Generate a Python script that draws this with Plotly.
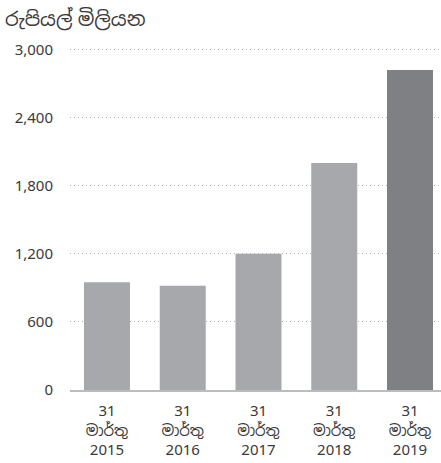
import plotly.graph_objects as go

years = ["2015", "2016", "2017", "2018", "2019"]
day = "31"
month = "මාර්තු"
values = [950, 920, 1200, 2000, 2820]
bar_colors = ["#a7a8ab", "#a7a8ab", "#a7a8ab", "#a7a8ab", "#7f8084"]
y_ticks = [0, 600, 1200, 1800, 2400, 3000]
y_tick_labels = ["0", "600", "1,200", "1,800", "2,400", "3,000"]
title_text = "රුපියල් මිලියන"

categories = [f"{day}<br>{month}<br>{y}" for y in years]

font_family = "Noto Sans, Noto Sans Sinhala, DejaVu Sans, sans-serif"

fig = go.Figure(
    go.Bar(
        x=categories,
        y=values,
        marker=dict(color=bar_colors, line=dict(width=0)),
        width=0.607,
        hoverinfo="skip",
    )
)

fig.update_layout(
    width=441,
    height=463,
    margin=dict(l=70, r=0, t=44, b=73),
    paper_bgcolor="white",
    plot_bgcolor="white",
    showlegend=False,
    font=dict(family=font_family, size=15, color="#3a3a3a"),
    annotations=[
        dict(
            text=title_text,
            xref="paper",
            yref="paper",
            x=0,
            xshift=-67,
            y=1,
            yshift=44 - 3,
            xanchor="left",
            yanchor="top",
            showarrow=False,
            font=dict(size=19.5, color="#3a3a3a", family=font_family),
        )
    ],
)

fig.update_xaxes(
    range=[-0.488, 4.409],
    automargin=False,
    showline=True,
    linecolor="#bbbcbf",
    linewidth=2,
    showgrid=False,
    ticks="",
    ticklabelstandoff=6,
    tickfont=dict(size=15, color="#3a3a3a"),
    fixedrange=True,
)

fig.update_yaxes(
    range=[0, 3050],
    automargin=False,
    tickvals=y_ticks,
    ticktext=y_tick_labels,
    showgrid=True,
    gridcolor="#b5b5b5",
    griddash="1px,3px",
    gridwidth=1,
    zeroline=False,
    showline=False,
    ticks="",
    ticklabelstandoff=16,
    tickfont=dict(size=15, color="#3a3a3a"),
    fixedrange=True,
)

fig.write_html(
    "out.html",
    config={"displayModeBar": False},
    post_script="document.body.style.margin='0';document.body.style.overflow='hidden';",
)
